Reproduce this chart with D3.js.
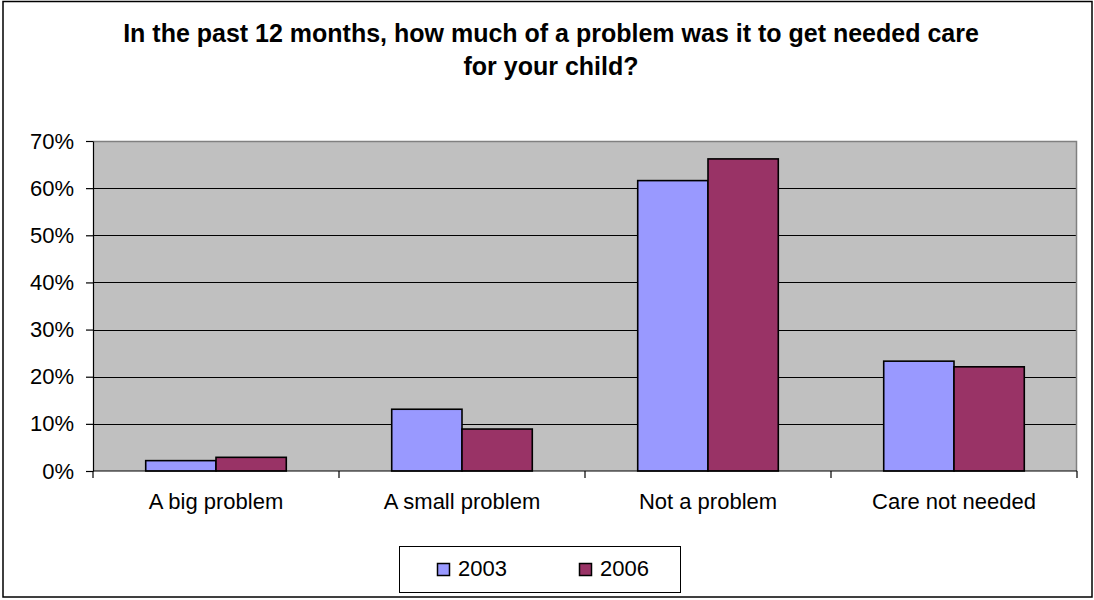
<!DOCTYPE html>
<html>
<head>
<meta charset="utf-8">
<script src="https://cdn.jsdelivr.net/npm/d3@7"></script>
<style>
  html, body { margin: 0; padding: 0; background: #ffffff; }
  svg text { font-family: "Liberation Sans", Arial, Helvetica, sans-serif; fill: #000; }
</style>
</head>
<body>
<svg id="chart" width="1094" height="600"></svg>
<script>
// Survey responses, share of respondents
const categories = ["A big problem", "A small problem", "Not a problem", "Care not needed"];
const seriesNames = ["2003", "2006"];
const values2003 = [0.022, 0.131, 0.616, 0.233];
const values2006 = [0.029, 0.089, 0.662, 0.221];
const yTicks = [0, 0.1, 0.2, 0.3, 0.4, 0.5, 0.6, 0.7];
const titleLines = [
  "In the past 12 months, how much of a problem was it to get needed care",
  "for your child?"
];
const colors = ["#9999FF", "#993366"];

const svg = d3.select("#chart");

// outer frame
svg.append("rect")
  .attr("x", 3).attr("y", 1.5)
  .attr("width", 1089).attr("height", 595.5)
  .attr("fill", "#fff").attr("stroke", "#000").attr("stroke-width", 1.5);

// title
svg.append("g").selectAll("text")
  .data(titleLines)
  .join("text")
  .attr("x", 551)
  .attr("y", (d, i) => 42 + i * 32.5)
  .attr("text-anchor", "middle")
  .style("font-size", "25px")
  .style("font-weight", "bold")
  .text(d => d);

const plot = { left: 93, right: 1077, top: 141, bottom: 471 };

const x = d3.scaleBand()
  .domain(categories)
  .range([plot.left, plot.right])
  .padding(0);

const xInner = d3.scaleBand()
  .domain(seriesNames)
  .range([0, x.bandwidth()])
  .paddingInner(0)
  .paddingOuter(0.75);

const y = d3.scaleLinear()
  .domain([0, 0.7])
  .range([plot.bottom, plot.top]);

// plot background
svg.append("rect")
  .attr("x", plot.left).attr("y", plot.top)
  .attr("width", plot.right - plot.left)
  .attr("height", plot.bottom - plot.top)
  .attr("fill", "#C0C0C0");

// gridlines
svg.append("g").selectAll("line")
  .data(yTicks.filter(t => t > 0 && t < 0.7))
  .join("line")
  .attr("x1", plot.left).attr("x2", plot.right)
  .attr("y1", d => Math.round(y(d)) + 0.5).attr("y2", d => Math.round(y(d)) + 0.5)
  .attr("stroke", "#000").attr("stroke-width", 1);

// gray top and right border of the plot area
svg.append("path")
  .attr("d", `M${plot.left},${plot.top + 0.5}H${plot.right - 0.5}V${plot.bottom}`)
  .attr("fill", "none").attr("stroke", "#808080").attr("stroke-width", 1.5);

// bars
const series = [values2003, values2006];
const barGroups = svg.append("g").selectAll("g")
  .data(categories)
  .join("g")
  .attr("transform", d => `translate(${x(d)},0)`);

barGroups.selectAll("rect")
  .data((d, ci) => seriesNames.map((s, si) => ({ s, si, v: series[si][ci] })))
  .join("rect")
  .attr("x", d => xInner(d.s))
  .attr("width", xInner.bandwidth())
  .attr("y", d => y(d.v))
  .attr("height", d => y(0) - y(d.v))
  .attr("fill", d => colors[d.si])
  .attr("stroke", "#000")
  .attr("stroke-width", 1.6);

// y axis
const yAxis = d3.axisLeft(y)
  .tickValues(yTicks)
  .tickFormat(d3.format(".0%"))
  .tickSizeInner(7)
  .tickSizeOuter(0)
  .tickPadding(12);

const yG = svg.append("g")
  .attr("transform", `translate(${plot.left},0)`)
  .call(yAxis);
yG.select(".domain").attr("stroke", "#000").attr("stroke-width", 1.2);
yG.selectAll(".tick line").attr("stroke", "#000").attr("stroke-width", 1.2);
yG.selectAll(".tick text")
  .style("font-size", "22px")
  .style("font-family", "'Liberation Sans', Arial, sans-serif");

// x axis line, boundary ticks and category labels
const xG = svg.append("g");
xG.append("line")
  .attr("x1", plot.left).attr("x2", plot.right)
  .attr("y1", plot.bottom).attr("y2", plot.bottom)
  .attr("stroke", "#000").attr("stroke-width", 1.2);

const boundaries = categories.map(c => x(c)).concat([x(categories[categories.length - 1]) + x.bandwidth()]);
xG.selectAll("line.tick")
  .data(boundaries)
  .join("line")
  .attr("class", "tick")
  .attr("x1", d => d).attr("x2", d => d)
  .attr("y1", plot.bottom).attr("y2", plot.bottom + 7)
  .attr("stroke", "#000").attr("stroke-width", 1.2);

xG.selectAll("text")
  .data(categories)
  .join("text")
  .attr("x", d => x(d) + x.bandwidth() / 2)
  .attr("y", 509)
  .attr("text-anchor", "middle")
  .style("font-size", "22px")
  .text(d => d);

// legend
const legend = svg.append("g");
legend.append("rect")
  .attr("x", 399.5).attr("y", 546.5)
  .attr("width", 281).attr("height", 46)
  .attr("fill", "#fff").attr("stroke", "#000").attr("stroke-width", 1);

const legendX = [437, 579];
const items = legend.selectAll("g.item")
  .data(seriesNames)
  .join("g")
  .attr("class", "item")
  .attr("transform", (d, i) => `translate(${legendX[i]},0)`);

items.append("rect")
  .attr("x", 0.5).attr("y", 563.5)
  .attr("width", 12).attr("height", 12)
  .attr("fill", (d, i) => colors[i])
  .attr("stroke", "#000").attr("stroke-width", 1.5);

items.append("text")
  .attr("x", 21).attr("y", 576)
  .style("font-size", "22px")
  .text(d => d);
</script>
</body>
</html>
